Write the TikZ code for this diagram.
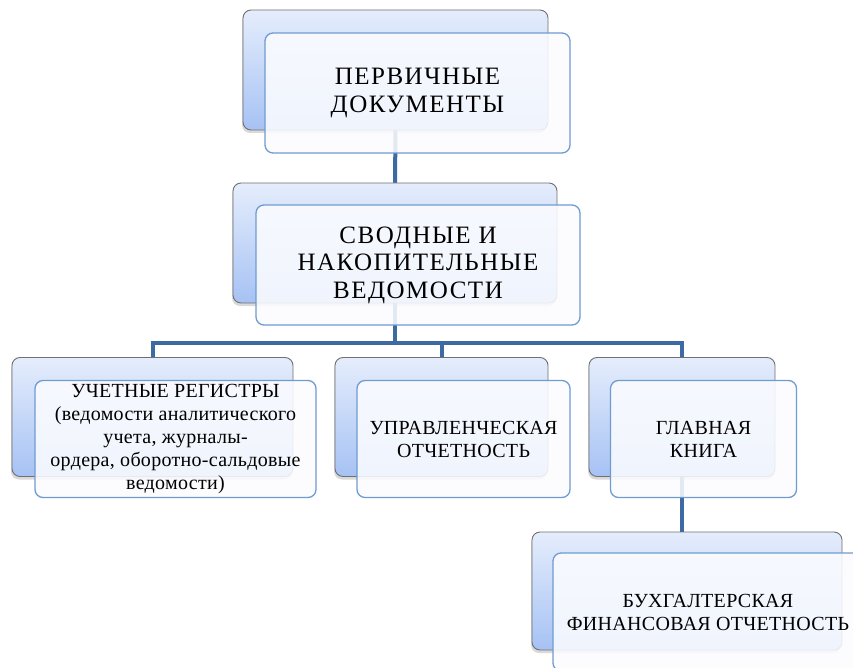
\documentclass[tikz,border=0pt]{standalone}
\usepackage{fontspec}
\setmainfont{Liberation Serif}
\newfontfamily\bigfont[LetterSpace=6]{Liberation Serif}
\newfontfamily\smallfont[LetterSpace=1.5]{Liberation Serif}
\usetikzlibrary{shadows}
\definecolor{backtop}{HTML}{E5EDFC}
\definecolor{backbot}{HTML}{A6C2F4}
\definecolor{backline}{HTML}{707070}
\definecolor{frontline}{HTML}{6F9BD1}
\definecolor{frontfill}{HTML}{FBFCFF}
\definecolor{connc}{HTML}{3D6AA3}
\tikzset{
  backbox/.style={draw=backline, line width=0.9pt, rounded corners=8pt,
    top color=backtop, bottom color=backbot,
    drop shadow={opacity=0.3, shadow xshift=-1pt, shadow yshift=-3pt},
    inner sep=0pt},
  frontbox/.style={draw=frontline, line width=1.3pt, rounded corners=8pt,
    fill=frontfill, fill opacity=0.87, text opacity=1, align=center, inner sep=0pt},
  bigtext/.style={font=\bigfont\fontsize{25}{27.5}\selectfont},
  smalltext/.style={font=\smallfont\fontsize{20}{23}\selectfont},
  conn/.style={draw=connc, line width=4pt}
}
\begin{document}
\begin{tikzpicture}[x=1pt,y=-1pt]
\useasboundingbox (0,0) rectangle (853,668);
% back box positions (drawn later)
\path (395.5,70) node[minimum width=305pt, minimum height=120pt, inner sep=0pt] (b1) {};
\path (395,243) node[minimum width=324pt, minimum height=120pt, inner sep=0pt] (b2) {};
\path (152.5,417) node[minimum width=281pt, minimum height=119pt, inner sep=0pt] (b3) {};
\path (441.5,417) node[minimum width=213pt, minimum height=119pt, inner sep=0pt] (b4) {};
\path (682,417) node[minimum width=186pt, minimum height=119pt, inner sep=0pt] (b5) {};
\path (687,591) node[minimum width=310pt, minimum height=118pt, inner sep=0pt] (b6) {};
\coordinate (j) at (398,343);
% connectors
\draw[conn] (b1.south) -- (b2.north);
\draw[conn] (b2.south) -- (b2.south |- j);
\draw[conn] (b3.north) -- (b3.north |- j) -- (b5.north |- j) -- (b5.north);
\draw[conn] (b4.north) -- (b4.north |- j);
\draw[conn] (b5.south) -- (b5.south |- b6.north);
% boxes
\node[backbox, minimum width=305pt, minimum height=120pt] at (b1) {};
\node[frontbox, bigtext, minimum width=305pt, minimum height=120pt] (f1) at (417.5,93) {ПЕРВИЧНЫЕ\\ДОКУМЕНТЫ};
\node[backbox, minimum width=324pt, minimum height=120pt] at (b2) {};
\node[frontbox, bigtext, minimum width=324pt, minimum height=120pt] (f2) at (418,265) {СВОДНЫЕ И\\НАКОПИТЕЛЬНЫЕ\\ВЕДОМОСТИ};
\node[backbox, minimum width=281pt, minimum height=119pt] at (b3) {};
\node[frontbox, smalltext, minimum width=281pt, minimum height=117pt] (f3) at (175.5,439) {УЧЕТНЫЕ РЕГИСТРЫ\\(ведомости аналитического\\учета, журналы-\\ордера, оборотно-сальдовые\\ведомости)};
\node[backbox, minimum width=213pt, minimum height=119pt] at (b4) {};
\node[frontbox, smalltext, minimum width=213pt, minimum height=117pt] (f4) at (463.5,439) {УПРАВЛЕНЧЕСКАЯ\\ОТЧЕТНОСТЬ};
\node[backbox, minimum width=186pt, minimum height=119pt] at (b5) {};
\node[frontbox, smalltext, minimum width=186pt, minimum height=117pt] (f5) at (703.5,439) {ГЛАВНАЯ\\КНИГА};
\node[backbox, minimum width=310pt, minimum height=118pt] at (b6) {};
\node[frontbox, smalltext, minimum width=310pt, minimum height=118pt] (f6) at (708,612) {БУХГАЛТЕРСКАЯ\\ФИНАНСОВАЯ ОТЧЕТНОСТЬ};
\end{tikzpicture}
\end{document}
